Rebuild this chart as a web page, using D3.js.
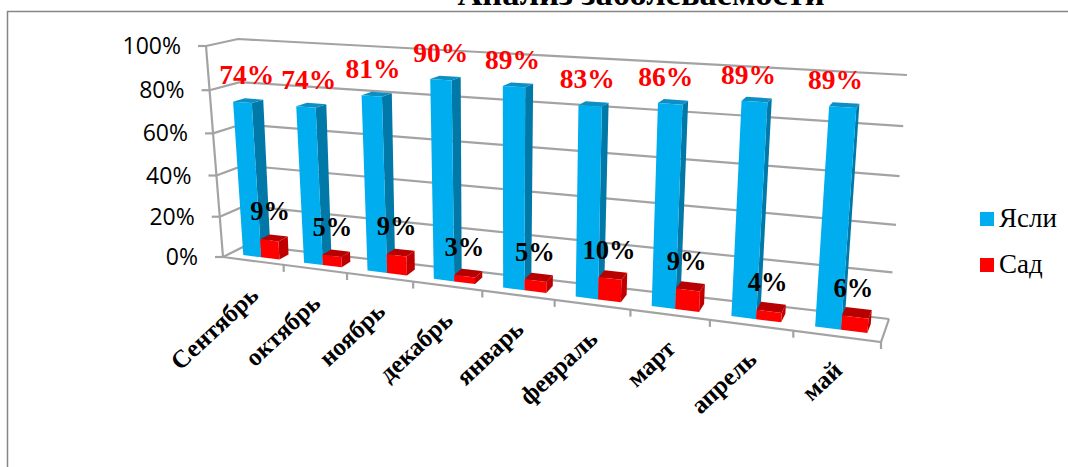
<!DOCTYPE html>
<html>
<head>
<meta charset="utf-8">
<script src="https://cdn.jsdelivr.net/npm/d3@7"></script>
<style>
  html, body { margin: 0; padding: 0; background: #fff; overflow: hidden; }
  text { font-family: "Liberation Serif", serif; }
  .val { font-weight: bold; font-size: 26.5px; text-anchor: middle; }
  .val.top { font-size: 27.5px; }
  .cat { font-weight: bold; font-size: 25px; text-anchor: end; }
  .ytick { font-family: "Open Sans", sans-serif; font-size: 23px; text-anchor: end; }
  .leg { font-size: 27px; }
  .title { font-weight: bold; font-size: 34.5px; text-anchor: middle; }
</style>
</head>
<body>
<svg id="chart" width="1068" height="467">
  <defs><filter id="soft" x="-5%" y="-5%" width="110%" height="110%"><feGaussianBlur stdDeviation="0.5"/></filter></defs>
</svg>
<script>
const months = ["Сентябрь", "октябрь", "ноябрь", "декабрь", "январь", "февраль", "март", "апрель", "май"];
const seriesNames = ["Ясли", "Сад"];
const yasli = [74, 74, 81, 90, 89, 83, 86, 89, 89];
const sad = [9, 5, 9, 3, 5, 10, 9, 4, 6];
const yTicks = [0, 20, 40, 60, 80, 100];

const svg = d3.select("#chart");

// --- 3D box corners as seen in the picture ---
const frontBL = [223, 257], frontBR = [881, 342], frontTL = [206, 46], frontTR = [901, 84];
const backBL = [247, 245], backBR = [889, 319], backTL = [238, 39], backTR = [907, 75];

const warp = (t, k) => t / (t + k * (1 - t));
const mix = (a, b, t) => [a[0] + (b[0] - a[0]) * t, a[1] + (b[1] - a[1]) * t];

// u along months, v up the value axis, w into the depth of the box (all 0..1)
function project(u, v, w) {
    const uu = warp(u, 1.23), vv = warp(v, 1.06);
    const f = mix(mix(frontBL, frontBR, uu), mix(frontTL, frontTR, uu), vv);
    const b = mix(mix(backBL, backBR, uu), mix(backTL, backTR, uu), vv);
    return mix(f, b, w);
}

const x = d3.scaleBand().domain(months).range([0, 1]);
const xInner = d3.scaleBand().domain(seriesNames).range([0.22 * x.bandwidth(), 0.82 * x.bandwidth()]);
const y = d3.scaleLinear().domain([0, 100]).range([0, 1]);
const depth0 = 0.3, depth1 = 0.7;

const line = d3.line();
const gray = "#a3a3a3";

// --- Frame and title ---
svg.append("path")
    .attr("d", "M7.5,467V11.5H1068")
    .attr("fill", "none").attr("stroke", "#868686").attr("stroke-width", 1.5);
svg.append("text").attr("class", "title").attr("x", 641).attr("y", 5).text("Анализ заболеваемости");

// --- Walls and grid ---
const grid = svg.append("g").attr("fill", "none").attr("stroke", gray).attr("stroke-width", 2.2)
    .attr("filter", "url(#soft)");
yTicks.forEach(t => {
    const v = y(t);
    grid.append("path").attr("d", line([project(0, v, 0), project(0, v, 1), project(1, v, 1)]));
    const p = project(0, v, 0);
    grid.append("path").attr("d", line([[p[0] - 8, p[1]], p]));
    svg.append("text").attr("class", "ytick")
        .attr("x", p[0] - 25).attr("y", p[1] + 8).text(t + "%");
});
grid.append("path").attr("d", line([project(0, 0, 0), project(0, 1, 0)]));
grid.append("path").attr("d", line([project(0, 0, 0), project(1, 0, 0), project(1, 0, 1)]));
d3.range(1, 10).forEach(i => {
    const p = project(i / 9, 0, 0);
    grid.append("path").attr("d", line([p, [p[0], p[1] + 7]]));
});

// --- Bars ---
const colors = {
    "Ясли": { front: "#00aeef", side: "#0079a8", top: "#0a8fc4" },
    "Сад": { front: "#ff0000", side: "#c00000", top: "#b80000" }
};

function drawBar(month, name, value) {
    const u0 = x(month) + xInner(name), u1 = u0 + xInner.bandwidth();
    const v = y(value), c = colors[name];
    const g = svg.append("g").attr("class", "bar").attr("filter", "url(#soft)");
    g.append("path").attr("fill", c.side).attr("d", line([
        project(u1, 0, depth0), project(u1, 0, depth1), project(u1, v, depth1), project(u1, v, depth0)]) + "Z");
    g.append("path").attr("fill", c.top).attr("d", line([
        project(u0, v, depth0), project(u0, v, depth1), project(u1, v, depth1), project(u1, v, depth0)]) + "Z");
    g.append("path").attr("fill", c.front).attr("d", line([
        project(u0, 0, depth0), project(u1, 0, depth0), project(u1, v, depth0), project(u0, v, depth0)]) + "Z");
}

months.forEach((m, i) => {
    drawBar(m, "Ясли", yasli[i]);
    drawBar(m, "Сад", sad[i]);
});

// --- Value labels ---
months.forEach((m, i) => {
    const u = x(m) + x.bandwidth() / 2;
    const a = project(x(m) + xInner("Ясли") + xInner.bandwidth() / 2, y(yasli[i]), depth0);
    svg.append("text").attr("class", "val top").attr("fill", "#ff0000")
        .attr("x", a[0] + 5 - 13 * u).attr("y", a[1] - 18).text(yasli[i] + "%");
    const b = project(x(m) + xInner("Сад") + xInner.bandwidth() / 2, y(sad[i]), depth0);
    svg.append("text").attr("class", "val").attr("fill", "#000")
        .attr("x", b[0] + 1 - 3 * u).attr("y", b[1] - 20).text(sad[i] + "%");
});

// --- Month labels ---
months.forEach(m => {
    const p = project(x(m) + x.bandwidth() / 2, 0, 0);
    svg.append("text").attr("class", "cat")
        .attr("transform", `translate(${p[0] + 7},${p[1] + 36}) rotate(-43)`)
        .text(m);
});

// --- Legend ---
const legendY = d3.scalePoint().domain(seriesNames).range([219, 265]);
seriesNames.forEach(name => {
    const ly = legendY(name);
    svg.append("rect").attr("x", 980).attr("y", ly - 7).attr("width", 14).attr("height", 14)
        .attr("fill", name === "Ясли" ? "#00aeef" : "#ff0000");
    svg.append("text").attr("class", "leg").attr("x", 999).attr("y", ly + 8).text(name);
});
</script>
</body>
</html>
